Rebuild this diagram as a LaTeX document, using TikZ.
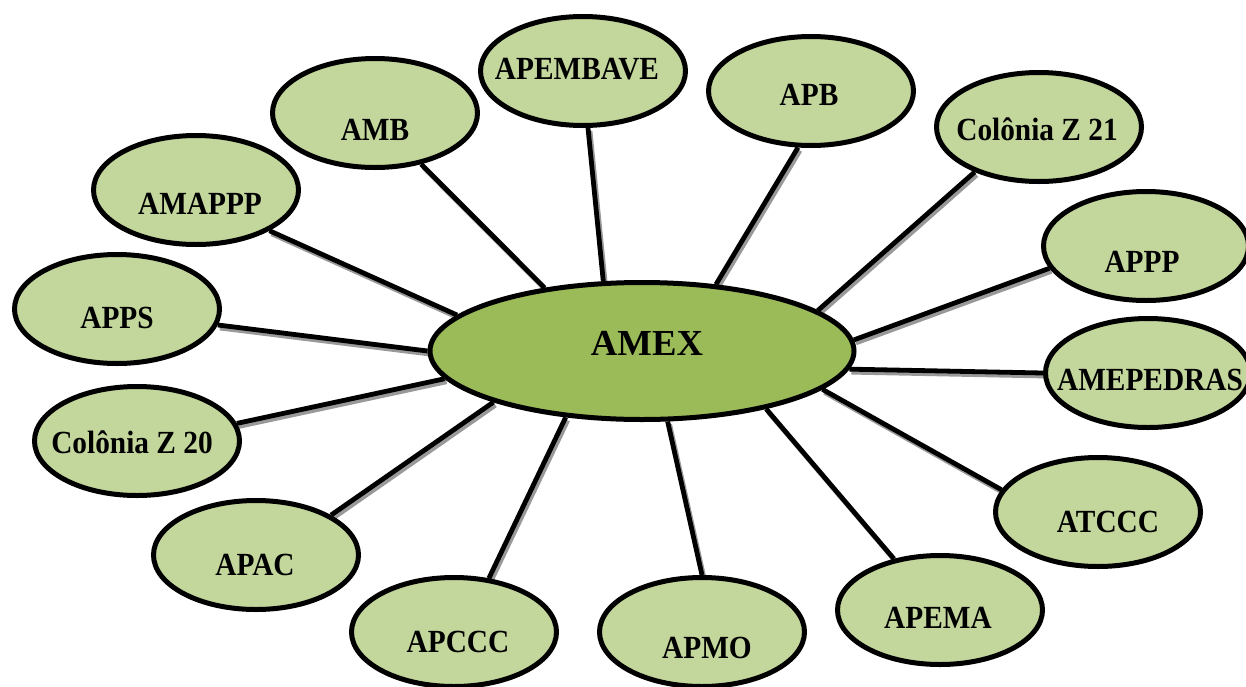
\documentclass[tikz,border=0pt]{standalone}
\usepackage{fontspec}
\setmainfont{Liberation Serif}
\usetikzlibrary{shapes.geometric,backgrounds}
\definecolor{leafgreen}{HTML}{C3D69B}
\definecolor{hubgreen}{HTML}{9BBB59}

\begin{document}
\begin{tikzpicture}[x=0.75pt,y=-0.75pt,
  org/.style={ellipse,draw=black,line width=3.75pt,fill=leafgreen,
    minimum width=153.75pt,minimum height=81.75pt,inner sep=0pt},
  orgname/.style={font=\bfseries\fontsize{22}{26}\selectfont,
    text height=14.5pt,text depth=0pt,inner sep=0pt,transform shape},
  hub/.style={ellipse,draw=black,line width=3.75pt,fill=hubgreen,
    minimum width=318pt,minimum height=102.75pt,inner sep=0pt},
  hubname/.style={font=\bfseries\fontsize{27.5}{32}\selectfont,
    text height=18pt,text depth=0pt,inner sep=0pt},
  link/.style={line width=3.6pt,draw=black},
  linkshadow/.style={line width=3.6pt,draw=black!40}]
  \useasboundingbox (0,0) rectangle (1246,686);

  % centre
  \node[hub,label={[hubname,shift={(5,-8)}]center:AMEX}] (amex) at (642,351) {};

  % associations round the centre
  \node[org,label={[orgname,shift={(-6,-2)},yscale=1.1]center:APEMBAVE}] (apembave) at (583,71) {};
  \node[org,label={[orgname,shift={(0,17)},yscale=1.1]center:AMB}] (amb) at (375,113) {};
  \node[org,label={[orgname,shift={(-2,4)},yscale=1.1]center:APB}] (apb) at (811,91) {};
  \node[org,label={[orgname,shift={(-2,3)},yscale=1.1]center:Colônia Z 21}] (colz21) at (1039,127) {};
  \node[org,label={[orgname,shift={(4,14)},yscale=1.1]center:AMAPPP}] (amappp) at (196,190) {};
  \node[org,label={[orgname,shift={(-4,16)},yscale=1.1]center:APPP}] (appp) at (1146,246) {};
  \node[org,label={[orgname,shift={(0,9)},yscale=1.1]center:APPS}] (apps) at (117,309) {};
  \node[org,label={[orgname,shift={(2,7)},yscale=1.1]center:AMEPEDRAS}] (amepedras) at (1148,373) {};
  \node[org,label={[orgname,shift={(-5,2)},yscale=1.1]center:Colônia Z 20}] (colz20) at (137,441) {};
  \node[org,label={[orgname,shift={(10,10)},yscale=1.1]center:ATCCC}] (atccc) at (1098,512) {};
  \node[org,label={[orgname,shift={(-1,10)},yscale=1.1]center:APAC}] (apac) at (256,555) {};
  \node[org,label={[orgname,shift={(-2,8)},yscale=1.1]center:APEMA}] (apema) at (940,610) {};
  \node[org,label={[orgname,shift={(4,10)},yscale=1.1]center:APCCC}] (apccc) at (454,632) {};
  \node[org,label={[orgname,shift={(5,16)},yscale=1.1]center:APMO}] (apmo) at (702,632) {};

  % spokes, with their grey shadow
  \begin{scope}[on background layer]
    \foreach \n/\a/\b in {amb/147/312, apembave/119.5/275, apb/42.7/257,
        colz21/13.6/215, appp/3.5/193, amepedras/355.7/180, atccc/348.2/167,
        apema/335/132, apmo/290/90, apccc/221.8/57, apac/199.8/28.6,
        colz20/188.7/10.8, apps/180/351.3, amappp/169.8/331} {
      \draw[linkshadow] ([shift={(2,3)}]amex.\a) -- ([shift={(2,3)}]\n.\b);
      \draw[link] (amex.\a) -- (\n.\b);
    }
  \end{scope}
\end{tikzpicture}
\end{document}
